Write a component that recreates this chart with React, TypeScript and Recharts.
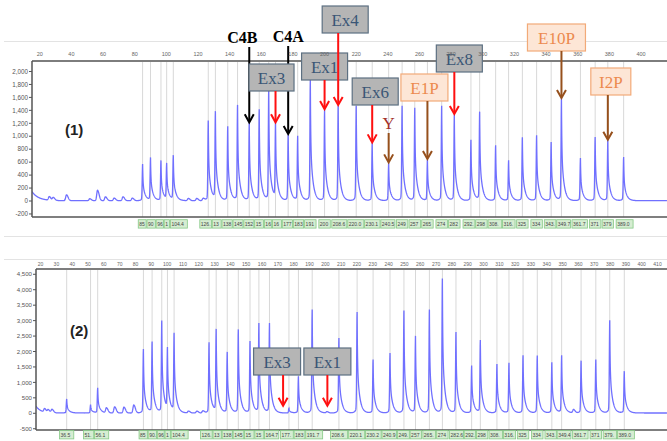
import { ComposedChart, Line, XAxis, YAxis, ReferenceLine, ReferenceDot } from "recharts";

// ---- run (1): sized fragments (label text doubles as fragment size) and peak heights
const run1Labels = ["85", "90", "96.6", "100.2", "104.4", "126.5", "131", "138.8", "145", "152.4", "158.7", "164.7", "169", "177.0", "183", "191", "200", "208.6", "220.0", "230.1", "240.5", "249", "257", "265", "274", "282", "292.5", "298", "308.1", "316.3", "325", "334", "343.2", "349.7", "361.7", "371", "379", "389.0"];
const run1Heights = [565, 658, 617, 555, 684, 1239, 1352, 1146, 1470, 1199, 1404, 1702, 1199, 1018, 992, 1867, 1404, 1466, 1466, 890, 581, 1466, 1430, 633, 1466, 1327, 941, 1363, 854, 622, 977, 1008, 905, 1574, 658, 982, 931, 674];
// small unlabelled bumps: [size, height]
const run1Minor: [number, number][] = [[26, 55], [28.5, 45], [36.9, 90], [51.6, 30], [56.5, 160], [61.5, 60], [67, 40], [72.6, 60], [78.5, 40], [113.9, 35], [119.2, 35], [123.3, 35]];
const run1XTicks = [20, 40, 60, 80, 100, 120, 140, 160, 180, 200, 220, 240, 260, 280, 300, 320, 340, 360, 380, 400];
const run1YTicks = [-200, 0, 200, 400, 600, 800, 1000, 1200, 1400, 1600, 1800, 2000];

// ---- run (2)
const run2Labels = ["36.5", "51.6", "56.1", "85", "90.5", "96.6", "100.2", "104.4", "126.5", "131", "138", "145", "152.4", "158", "164.7", "177.0", "183", "191.7", "208.6", "220.1", "230.2", "240.9", "249.7", "257", "265.8", "274", "282.6", "292.5", "298", "308.5", "316.1", "325", "334", "343.2", "349.4", "361.7", "371", "379.8", "389.0"];
const run2Heights = [453, 270, 809, 2072, 2287, 2967, 1996, 2525, 2287, 2665, 1964, 2697, 2320, 2881, 2892, 150, 1187, 3345, 2428, 3269, 1726, 1942, 3312, 2482, 3345, 4348, 2611, 1532, 2341, 1586, 1618, 1867, 1856, 1640, 1856, 1694, 1726, 3000, 1349];
const run2Minor: [number, number][] = [[22.5, 110], [24.8, 90], [27.2, 110], [61.6, 160], [66.8, 200], [72.7, 190], [78.9, 260], [113.5, 60], [118.8, 60], [122.6, 70], [201, 40], [356.9, 110]];
const run2XTicks = [20, 30, 40, 50, 60, 70, 80, 90, 100, 110, 120, 130, 140, 150, 160, 170, 180, 190, 200, 210, 220, 230, 240, 250, 260, 270, 280, 290, 300, 310, 320, 330, 340, 350, 360, 370, 380, 390, 400, 410];
const run2YTicks = [-500, 0, 500, 1000, 1500, 2000, 2500, 3000, 3500, 4000, 4500];

// callout targets: text and fragment size (run 2 arrows point at missing fragments)
const run1Callouts = [
  { text: "C4B", size: 152.4 },
  { text: "C4A", size: 177.0 },
  { text: "Ex3", size: 169 },
  { text: "Ex1", size: 200 },
  { text: "Ex4", size: 208.6 },
  { text: "Ex6", size: 230.1 },
  { text: "Y", size: 240.5 },
  { text: "E1P", size: 265 },
  { text: "Ex8", size: 282 },
  { text: "E10P", size: 349.7 },
  { text: "I2P", size: 379 },
];
const run2Callouts = [
  { text: "Ex3", size: 173.3, level: 210 },
  { text: "Ex1", size: 201.3, level: 210 },
];

type Look = { kind: "grey" | "peach" | "plain"; top: number; w: number; dx: number; arrow: string; color?: string; bold?: boolean };

const run1Look: Record<string, Look> = {
  C4B: { kind: "plain", top: 43, w: 0, dx: -7, arrow: "#000", color: "#000", bold: true },
  C4A: { kind: "plain", top: 42, w: 0, dx: 0, arrow: "#000", color: "#000", bold: true },
  Ex3: { kind: "grey", top: 64, w: 45, dx: -4, arrow: "#ff1010" },
  Ex1: { kind: "grey", top: 53, w: 46, dx: 0, arrow: "#ff1010" },
  Ex4: { kind: "grey", top: 6, w: 46, dx: 7, arrow: "#ff1010" },
  Ex6: { kind: "grey", top: 78, w: 46, dx: 3, arrow: "#ff1010" },
  Y: { kind: "plain", top: 129, w: 0, dx: 0, arrow: "#96501c", color: "#a3302a" },
  E1P: { kind: "peach", top: 74, w: 47, dx: -3, arrow: "#96501c" },
  Ex8: { kind: "grey", top: 45, w: 46, dx: 5, arrow: "#ff1010" },
  E10P: { kind: "peach", top: 24, w: 58, dx: -5, arrow: "#96501c" },
  I2P: { kind: "peach", top: 68, w: 40, dx: 3, arrow: "#96501c" },
};
const run2Look: Record<string, Look> = {
  Ex3: { kind: "grey", top: 118, w: 47, dx: -6, arrow: "#ff1010" },
  Ex1: { kind: "grey", top: 118, w: 47, dx: 0, arrow: "#ff1010" },
};

const SANS = "'Liberation Sans', Arial, sans-serif";
const SERIF = "'Liberation Serif', 'Times New Roman', serif";

type Cfg = {
  h: number; top: number; bottom: number; yAxisW: number;
  xDom: [number, number]; yDom: [number, number];
  xFont: number; yFont: number; xTickSize: number; tagGap: number;
  lead: { base: number; level: number; fade: number };
};

const W = 667;
const AXIS_H = 10; // height reserved by the top x axis
const TAG_FONT = 5;
const cfg1: Cfg = { h: 230, top: 61, bottom: 13, yAxisW: 32, xDom: [15.1, 416.4], yDom: [-247, 2162], xFont: 5.5, yFont: 6.3, xTickSize: 3, tagGap: 2.7, lead: { base: 5, level: 140, fade: 4 } };
const cfg2: Cfg = { h: 211, top: 39, bottom: 11, yAxisW: 36, xDom: [17.1, 416.0], yDom: [-541, 4671], xFont: 5, yFont: 6.1, xTickSize: 1, tagGap: 0.5, lead: { base: 10, level: 220, fade: 3 } };

// sharp rise, fast drop then a short tail on the right
function peakShape(d: number) {
  if (d < 0) return 0.92 * Math.exp(-((d / 0.35) ** 2)) + 0.08 * Math.exp(d / 0.9);
  return 0.5 * Math.exp(-d / 0.22) + 0.5 * Math.exp(-d / 1.5);
}
function bumpShape(d: number) {
  return d < 0 ? Math.exp(-((d / 0.7) ** 2)) : Math.exp(-((d / 1.4) ** 2));
}

function buildTrace(sizes: number[], heights: number[], minor: [number, number][], c: Cfg) {
  const xs: number[] = [];
  for (let s = c.xDom[0]; s <= c.xDom[1]; s += 0.12) xs.push(s);
  xs.push(...sizes, ...minor.map((m) => m[0]));
  xs.sort((a, b) => a - b);
  return xs.map((s) => {
    let v = c.lead.base + c.lead.level * Math.exp(-(s - c.xDom[0]) / c.lead.fade);
    sizes.forEach((p, i) => {
      const d = s - p;
      if (d > -4 && d < 14) v += heights[i] * peakShape(d);
    });
    minor.forEach(([p, hgt]) => {
      const d = s - p;
      if (d > -4 && d < 6) v += hgt * bumpShape(d);
    });
    return { s, v };
  });
}

// keep as many leading characters as fit into the tag box
function fitText(text: string, room: number) {
  let w = 0;
  let out = "";
  for (const ch of text) {
    w += (ch === "." ? 0.28 : 0.556) * TAG_FONT;
    if (w > room) break;
    out += ch;
  }
  return out;
}

const fmt = (v: number) => v.toLocaleString("en-US");

function Panel({ cfg, tag, labels, heights, minor, xTicks, yTicks, callouts, looks }: {
  cfg: Cfg; tag: string; labels: string[]; heights: number[]; minor: [number, number][];
  xTicks: number[]; yTicks: number[];
  callouts: { text: string; size: number; level?: number }[]; looks: Record<string, Look>;
}) {
  const sizes = labels.map((l) => parseFloat(l));
  const data = buildTrace(sizes, heights, minor, cfg);
  const ppu = (W - cfg.yAxisW) / (cfg.xDom[1] - cfg.xDom[0]);

  const renderTag = (i: number) => (props: any) => {
    const { cx } = props;
    const y = cfg.h - cfg.bottom + cfg.tagGap;
    const text = labels[i];
    const natural = text.length * TAG_FONT * 0.55 + 4;
    const gapL = i > 0 ? (sizes[i] - sizes[i - 1]) * ppu : 99;
    const gapR = i < sizes.length - 1 ? (sizes[i + 1] - sizes[i]) * ppu : 99;
    const left = cx - Math.min(natural / 2, gapL / 2);
    const right = Math.min(left + natural, cx + gapR / 2);
    const shown = fitText(text, right - left - 2);
    return (
      <g key={`${tag}-${i}`}>
        <rect x={left + 0.4} y={y} width={right - left - 0.8} height={8.4} fill="#d6edd2" stroke="#86c986" strokeWidth={0.8} />
        <text x={left + 1.4} y={y + 6} fontSize={TAG_FONT} fill="#444" fontFamily={SANS}>{shown}</text>
      </g>
    );
  };

  const renderCallout = (text: string, look: Look) => (props: any) => {
    const { cx, cy } = props;
    const tipY = cy - 1;
    const bx = cx + look.dx;
    const y0 = look.kind === "plain" ? look.top + 4 : look.top + 27;
    return (
      <g>
        {look.kind === "plain" ? (
          <text x={bx} y={look.top} textAnchor="middle" fontSize={look.bold ? 16 : 17} fontWeight={look.bold ? 700 : 400} fill={look.color} fontFamily={SERIF}>{text}</text>
        ) : (
          <g>
            <rect x={bx - look.w / 2} y={look.top} width={look.w} height={27}
              fill={look.kind === "grey" ? "#b5b5b5" : "#fde6d6"}
              stroke={look.kind === "grey" ? "#5d7082" : "#f2aa78"} strokeWidth={1.2} />
            <text x={bx} y={look.top + 19.5} textAnchor="middle" fontSize={17} fontFamily={SERIF}
              fill={look.kind === "grey" ? "#3a5676" : "#ec8a4e"}>{text}</text>
          </g>
        )}
        <line x1={cx} y1={y0} x2={cx} y2={tipY - 1} stroke={look.arrow} strokeWidth={2} />
        <polyline points={`${cx - 4.5},${tipY - 8} ${cx},${tipY} ${cx + 4.5},${tipY - 8}`} fill="none" stroke={look.arrow} strokeWidth={2} />
      </g>
    );
  };

  return (
    <ComposedChart width={W} height={cfg.h} data={data} margin={{ top: cfg.top - AXIS_H, right: 0, bottom: cfg.bottom, left: 0 }}>
      <XAxis dataKey="s" type="number" orientation="top" height={AXIS_H} domain={cfg.xDom} allowDataOverflow ticks={xTicks} interval={0}
        tickLine={false} tickSize={cfg.xTickSize} tickMargin={2}
        axisLine={{ stroke: "#7d7d7d", strokeWidth: 2 }}
        tick={{ fontSize: cfg.xFont, fill: "#666", fontFamily: SANS }} />
      <YAxis type="number" domain={cfg.yDom} allowDataOverflow ticks={yTicks} interval={0} width={cfg.yAxisW}
        tickFormatter={fmt} tickSize={3} tickMargin={1}
        axisLine={{ stroke: "#555", strokeWidth: 1.5 }} tickLine={{ stroke: "#555" }}
        tick={{ fontSize: cfg.yFont, fill: "#555", fontFamily: SANS }} />
      {sizes.map((p, i) => (
        <ReferenceLine key={`g${i}`} x={p} stroke="#d8d8d8" strokeWidth={1} ifOverflow="visible" />
      ))}
      <ReferenceLine y={cfg.yDom[0]} stroke="#555" strokeWidth={1.5} ifOverflow="visible" />
      <Line type="linear" dataKey="v" stroke="#7070ff" strokeWidth={1.3} dot={false} isAnimationActive={false} />
      {sizes.map((p, i) => (
        <ReferenceDot key={`t${i}`} x={p} y={cfg.yDom[0]} r={1} ifOverflow="visible" shape={renderTag(i)} />
      ))}
      {callouts.map((c) => {
        const idx = sizes.indexOf(c.size);
        const level = c.level ?? heights[idx];
        return (
          <ReferenceDot key={c.text} x={c.size} y={level} r={1} ifOverflow="visible" shape={renderCallout(c.text, looks[c.text])} />
        );
      })}
    </ComposedChart>
  );
}

export default function App() {
  const rule = (top: number) => (
    <div style={{ position: "absolute", left: 4, top, width: 663, height: 1, background: "#e3e3e3" }} />
  );
  return (
    <div style={{ position: "absolute", left: 0, top: 0, width: W, height: 441, background: "#fff", overflow: "hidden" }}>
      {rule(41)}
      {rule(236)}
      {rule(259)}
      <div style={{ position: "absolute", left: 0, top: 0 }}>
        <Panel cfg={cfg1} tag="a" labels={run1Labels} heights={run1Heights} minor={run1Minor}
          xTicks={run1XTicks} yTicks={run1YTicks} callouts={run1Callouts} looks={run1Look} />
      </div>
      <div style={{ position: "absolute", left: 0, top: 230 }}>
        <Panel cfg={cfg2} tag="b" labels={run2Labels} heights={run2Heights} minor={run2Minor}
          xTicks={run2XTicks} yTicks={run2YTicks} callouts={run2Callouts} looks={run2Look} />
      </div>
      <div style={{ position: "absolute", left: 65, top: 121, fontFamily: SANS, fontWeight: 700, fontSize: 15, color: "#222" }}>(1)</div>
      <div style={{ position: "absolute", left: 70, top: 322, fontFamily: SANS, fontWeight: 700, fontSize: 15, color: "#222" }}>(2)</div>
    </div>
  );
}
